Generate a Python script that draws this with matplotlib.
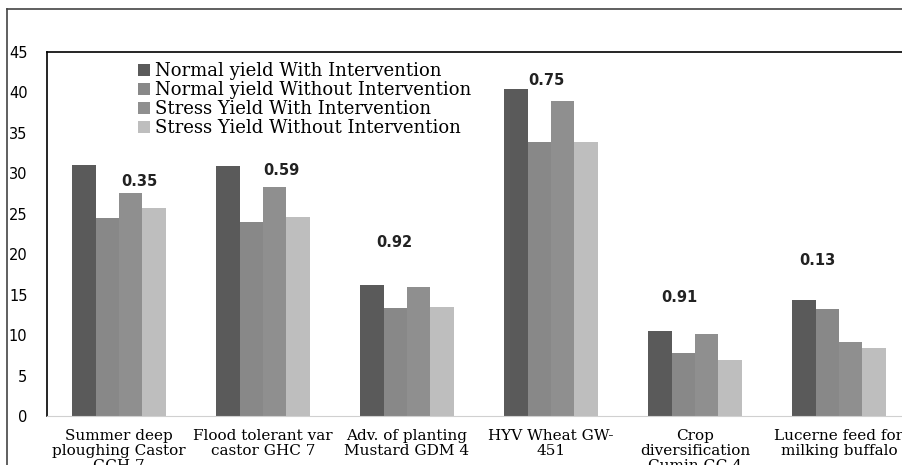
import matplotlib
matplotlib.use("Agg")
import matplotlib.pyplot as plt
import numpy as np
from matplotlib.lines import Line2D

categories = [
    "Summer deep\nploughing Castor\nGCH 7",
    "Flood tolerant var\ncastor GHC 7",
    "Adv. of planting\nMustard GDM 4",
    "HYV Wheat GW-\n451",
    "Crop\ndiversification\nCumin GC 4",
    "Lucerne feed for\nmilking buffalo",
]
series_names = [
    "Normal yield With Intervention",
    "Normal yield Without Intervention",
    "Stress Yield With Intervention",
    "Stress Yield Without Intervention",
]
normal_with = [31.0, 30.9, 16.2, 40.4, 10.5, 14.4]
normal_without = [24.5, 24.0, 13.4, 33.9, 7.8, 13.2]
stress_with = [27.6, 28.3, 16.0, 38.9, 10.1, 9.1]
stress_without = [25.7, 24.6, 13.5, 33.9, 6.9, 8.4]
labels = ["0.35", "0.59", "0.92", "0.75", "0.91", "0.13"]
yticks = [0, 5, 10, 15, 20, 25, 30, 35, 40, 45]

# label placement (layout only)
label_dx = [0.14, 0.13, -0.09, -0.03, -0.11, -0.15]
label_y = [29.0, 30.3, 21.5, 41.5, 14.7, 19.2]

colors = ["#5a5a5a", "#888888", "#8f8f8f", "#bebebe"]

W, H = 902, 465
fig = plt.figure(figsize=(W / 100, H / 100), dpi=100)

# outer frame lines
fig.add_artist(Line2D([7 / W, 7 / W], [0, 1 - 9 / H], color="#444444", lw=1.2))
fig.add_artist(Line2D([7 / W, 1], [1 - 9 / H, 1 - 9 / H], color="#444444", lw=1.2))

ax = fig.add_axes([47 / W, 49 / H, 864 / W, 364 / H])
x = np.arange(len(categories))
bw = 0.1615
all_series = [normal_with, normal_without, stress_with, stress_without]
for i, (vals, name, c) in enumerate(zip(all_series, series_names, colors)):
    ax.bar(x + (i - 1.5) * bw, vals, width=bw, color=c, label=name, linewidth=0)

for xi, dx, yv, lab in zip(x, label_dx, label_y, labels):
    ax.text(xi + dx, yv, lab, ha="center", va="center", fontsize=10.5,
            fontweight="bold", color="#222222", family="DejaVu Sans")

ax.set_xlim(-0.5, len(categories) - 0.5)
ax.set_ylim(0, 45)
ax.set_yticks(yticks)
ax.tick_params(axis="y", length=0, pad=14, labelsize=10.5)
for t in ax.get_yticklabels():
    t.set_fontfamily("DejaVu Sans")
ax.set_xticks(x)
ax.set_xticklabels(categories, fontsize=11, family="DejaVu Serif", linespacing=1.1)
ax.tick_params(axis="x", length=0, pad=9)

ax.spines["top"].set_color("black")
ax.spines["left"].set_color("black")
ax.spines["top"].set_linewidth(1.2)
ax.spines["left"].set_linewidth(1.2)
ax.spines["bottom"].set_color("#d0d0d0")
ax.spines["right"].set_visible(False)

leg = ax.legend(loc="upper left", bbox_to_anchor=(138 / W, 1 - 62 / H),
                bbox_transform=fig.transFigure, frameon=False, borderpad=0,
                borderaxespad=0, handlelength=0.65, handleheight=0.65,
                handletextpad=0.3, labelspacing=0.06,
                prop={"family": "DejaVu Serif", "size": 13})

fig.savefig("out.png", dpi=100)
